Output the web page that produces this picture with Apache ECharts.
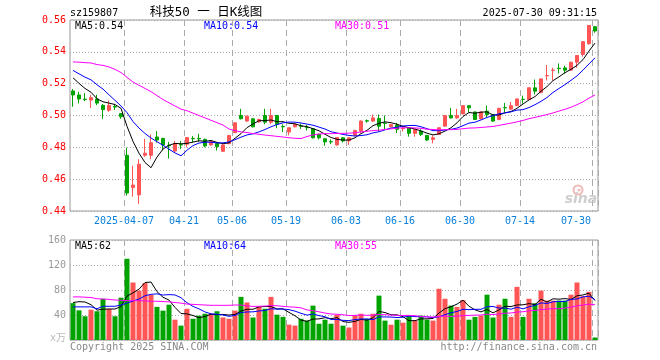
<!DOCTYPE html>
<html><head><meta charset="utf-8">
<script src="https://cdn.jsdelivr.net/npm/echarts@6/dist/echarts.min.js"></script>
<style>html,body{margin:0;padding:0;background:#fff}#c{width:660px;height:360px}</style>
</head><body><div id="c"></div>
<script>
const categories = ['2025-03-24','2025-03-25','2025-03-26','2025-03-27','2025-03-28','2025-03-31','2025-04-01','2025-04-02','2025-04-03','2025-04-07','2025-04-08','2025-04-09','2025-04-10','2025-04-11','2025-04-14','2025-04-15','2025-04-16','2025-04-17','2025-04-18','2025-04-21','2025-04-22','2025-04-23','2025-04-24','2025-04-25','2025-04-28','2025-04-29','2025-04-30','2025-05-06','2025-05-07','2025-05-08','2025-05-09','2025-05-12','2025-05-13','2025-05-14','2025-05-15','2025-05-16','2025-05-19','2025-05-20','2025-05-21','2025-05-22','2025-05-23','2025-05-26','2025-05-27','2025-05-28','2025-05-29','2025-05-30','2025-06-03','2025-06-04','2025-06-05','2025-06-06','2025-06-09','2025-06-10','2025-06-11','2025-06-12','2025-06-13','2025-06-16','2025-06-17','2025-06-18','2025-06-19','2025-06-20','2025-06-23','2025-06-24','2025-06-25','2025-06-26','2025-06-27','2025-06-30','2025-07-01','2025-07-02','2025-07-03','2025-07-04','2025-07-07','2025-07-08','2025-07-09','2025-07-10','2025-07-11','2025-07-14','2025-07-15','2025-07-16','2025-07-17','2025-07-18','2025-07-21','2025-07-22','2025-07-23','2025-07-24','2025-07-25','2025-07-28','2025-07-29','2025-07-30'];

const opens = [0.5154,0.5129,0.5103,0.5097,0.5104,0.5064,0.5033,0.5056,0.5012,0.4750,
0.4547,0.4501,0.4750,0.4750,0.4865,0.4856,0.4812,0.4777,0.4817,0.4819,
0.4856,0.4856,0.4850,0.4815,0.4825,0.4775,0.4823,0.4892,0.5000,0.4965,
0.4979,0.4960,0.5000,0.4958,0.5000,0.4931,0.4896,0.4929,0.4935,0.4925,
0.4917,0.4881,0.4854,0.4836,0.4815,0.4860,0.4840,0.4875,0.4902,0.4967,
0.4965,0.4981,0.4952,0.4929,0.4938,0.4917,0.4923,0.4888,0.4902,0.4875,
0.4850,0.4881,0.4933,0.5000,0.4985,0.5010,0.5062,0.5022,0.4980,0.5027,
0.5006,0.4975,0.5050,0.5040,0.5062,0.5102,0.5100,0.5174,0.5145,0.5249,
0.5283,0.5297,0.5299,0.5285,0.5335,0.5384,0.5451,0.5558];

const closes = [0.5129,0.5104,0.5100,0.5112,0.5078,0.5037,0.5064,0.5053,0.4992,0.4513,
0.4563,0.4694,0.4763,0.4829,0.4846,0.4815,0.4810,0.4823,0.4815,0.4861,
0.4854,0.4853,0.4809,0.4836,0.4804,0.4815,0.4875,0.4954,0.4980,0.4996,
0.4929,0.4975,0.4958,0.5000,0.4944,0.4929,0.4923,0.4944,0.4933,0.4923,
0.4860,0.4860,0.4834,0.4834,0.4861,0.4840,0.4860,0.4906,0.4965,0.4965,
0.4985,0.4933,0.4950,0.4944,0.4913,0.4919,0.4888,0.4913,0.4881,0.4846,
0.4860,0.4923,0.5000,0.4985,0.5000,0.5062,0.5048,0.4975,0.5022,0.5006,
0.4965,0.5045,0.5048,0.5062,0.5104,0.5100,0.5174,0.5153,0.5230,0.5251,
0.5285,0.5295,0.5285,0.5335,0.5377,0.5464,0.5566,0.5531];

const lows = [0.5055,0.5076,0.5090,0.5047,0.5065,0.4979,0.5023,0.5035,0.4979,0.4497,
0.4490,0.4445,0.4740,0.4725,0.4829,0.4780,0.4730,0.4770,0.4790,0.4800,
0.4830,0.4835,0.4800,0.4810,0.4780,0.4770,0.4820,0.4890,0.4975,0.4960,
0.4925,0.4955,0.4945,0.4945,0.4920,0.4896,0.4875,0.4925,0.4915,0.4905,
0.4855,0.4850,0.4810,0.4820,0.4810,0.4830,0.4815,0.4870,0.4890,0.4955,
0.4960,0.4900,0.4915,0.4925,0.4890,0.4900,0.4867,0.4867,0.4871,0.4840,
0.4825,0.4880,0.4930,0.4982,0.4980,0.5008,0.5020,0.4972,0.4975,0.4990,
0.4960,0.4970,0.5020,0.5035,0.5060,0.5075,0.5098,0.5132,0.5140,0.5220,
0.5220,0.5264,0.5264,0.5283,0.5300,0.5370,0.5445,0.5520];

const highs = [0.5166,0.5149,0.5140,0.5130,0.5130,0.5072,0.5094,0.5073,0.5015,0.4798,
0.4684,0.4725,0.4854,0.4881,0.4902,0.4860,0.4834,0.4840,0.4840,0.4865,
0.4870,0.4885,0.4855,0.4840,0.4830,0.4820,0.4878,0.4957,0.5042,0.5000,
0.4985,0.4980,0.5042,0.5042,0.5000,0.4944,0.4925,0.4948,0.4950,0.4940,
0.4920,0.4885,0.4856,0.4850,0.4865,0.4862,0.4862,0.4910,0.4970,0.4975,
0.5006,0.5006,0.5000,0.4946,0.4954,0.4935,0.4925,0.4915,0.4913,0.4878,
0.4875,0.4925,0.5003,0.5048,0.5042,0.5064,0.5064,0.5025,0.5025,0.5062,
0.5008,0.5048,0.5079,0.5085,0.5106,0.5125,0.5176,0.5226,0.5232,0.5317,
0.5300,0.5327,0.5313,0.5337,0.5380,0.5466,0.5568,0.5560];

const volumes = [59,47.5,38,48.5,46,66,49.6,38,67.7,130,
92,79,91,72,53,47,56.5,32.5,23,50,
34,39,42,41.6,46,36,34,47,69,60,
36,53,50,69,40.5,37,24.5,23,34,31,
55,26,32.5,26,40,23,20,40,42,33.6,
42,71,31,24.5,32.5,27.7,39,31,39,32.5,
31,82,66,55,53,63.5,32.5,37,39,72.5,
36,56.5,66,37,85,37,66,58.7,79,63,
63,63,63,72.5,92,70,77,4];

// moving-average values before a full window exists inside the shown range
const ma5Head = [0.5237,0.5202,0.5170,0.5146];
const ma10Head = [0.5283,0.5262,0.5241,0.5224,0.5193,0.5166,0.5130,0.5095,0.5060];
const ma30Head = [0.5337,0.5335,0.5332,0.5330,0.5320,0.5315,0.5305,0.5290,0.5270,0.5240,0.5210,0.5190,0.5170,0.5150,0.5125,0.5100,0.5080,0.5060,0.5040,0.5030,0.5015,0.5000,0.4985,0.4970,0.4955,0.4940,0.4915,0.4905,0.4897];
const volMa5Head = [60,61.3,60.8,56.5];
const volMa10Head = [53,53,53,53,50,54,54,54,56];
const volMa30Head = [69,69,68.5,68,66,65.5,65,64,63.5,63,63,63,62.5,62,62,61.5,61,60,59,57.5,57,56.5,56,55.5,55.5,55.5,55.5,56,56];

const labelDates = ['2025-04-07','2025-04-21','2025-05-06','2025-05-19','2025-06-03','2025-06-16','2025-06-30','2025-07-14','2025-07-30'];
const tickLabels = ['2025-04-07','04-21','05-06','05-19','06-03','06-16','06-30','07-14','07-30'];
const priceLegend = ['MA5:0.54','MA10:0.54','MA30:0.51'];
const volLegend = ['MA5:62','MA10:64','MA30:55'];

function movingAvg(vals, n, head, dp) {
  return vals.map((v, i) => {
    if (i < n - 1) return head[i];
    let s = 0;
    for (let k = i - n + 1; k <= i; k++) s += vals[k];
    return +(s / n).toFixed(dp);
  });
}

const MONO = '"DejaVu Sans Mono", "Liberation Mono", monospace';
const UP = '#ff5555', DOWN = '#00a300';
const labelSet = new Set(labelDates.map(d => categories.indexOf(d)));
const showIdx = (i) => labelSet.has(i);

const chart = echarts.init(document.getElementById('c'), null, {renderer: 'canvas'});

function lineSeries(name, data, color, xi) {
  return {name, type: 'line', data, xAxisIndex: xi, yAxisIndex: xi, symbol: 'none',
    lineStyle: {color, width: 1}, itemStyle: {color}, silent: true, z: 3};
}
function txt(text, x, y, fill, align, size, family) {
  return {type: 'text', x, y, silent: true, z: 100,
    style: {text, fill, font: (size || 10) + 'px ' + (family || MONO), textAlign: align || 'left', textVerticalAlign: 'middle'}};
}
const xSplit = {show: true, interval: (i) => showIdx(i), lineStyle: {color: '#aaa', width: 1, type: [6, 4]}};
const ySplit = {show: true, lineStyle: {color: '#aaa', width: 1, type: [1, 2]}};

const option = {
  animation: false,
  backgroundColor: '#fff',
  grid: [
    {left: 70, top: 20, width: 528, height: 191, show: true, borderColor: '#999', borderWidth: 1},
    {left: 70, top: 240, width: 528, height: 100, show: true, borderColor: '#999', borderWidth: 1}
  ],
  xAxis: [
    {type: 'category', gridIndex: 0, data: categories, boundaryGap: true,
      axisLine: {show: false}, axisTick: {show: false}, splitLine: xSplit,
      axisLabel: {interval: (i) => showIdx(i), color: '#0a80dc', fontFamily: MONO, fontSize: 10, margin: 5,
        padding: [0, 6, 0, 0],
        formatter: (v) => {
          const k = labelDates.indexOf(v);
          if (k < 0) return '';
          return k === labelDates.length - 1 ? '{last|' + tickLabels[k] + '}' : tickLabels[k];
        },
        rich: {last: {padding: [0, 32, 0, 0], color: '#0a80dc', fontFamily: MONO, fontSize: 10}}}},
    {type: 'category', gridIndex: 1, data: categories, boundaryGap: true,
      axisLine: {show: false}, axisTick: {show: false}, axisLabel: {show: false}, splitLine: xSplit}
  ],
  yAxis: [
    {type: 'value', gridIndex: 0, min: 0.44, max: 0.56, interval: 0.02, scale: true,
      axisLine: {show: false}, axisTick: {show: false}, splitLine: ySplit,
      axisLabel: {color: '#ff0000', fontFamily: MONO, fontSize: 10, margin: 4, formatter: (v) => v.toFixed(2)}},
    {type: 'value', gridIndex: 1, min: 0, max: 160, interval: 40,
      axisLine: {show: false}, axisTick: {show: false}, splitLine: ySplit,
      axisLabel: {color: '#999', fontFamily: MONO, fontSize: 10, margin: 4,
        formatter: (v) => v === 0 ? '{u|x万}' : String(v),
        rich: {u: {color: '#bbb', fontSize: 10, fontFamily: MONO + ', "Noto Sans CJK SC"', padding: [0, 0, 4, 0]}}}}
  ],
  series: [
    {name: 'K', type: 'candlestick', xAxisIndex: 0, yAxisIndex: 0, barWidth: 4,
      data: opens.map((o, i) => [o, closes[i], lows[i], highs[i]]),
      itemStyle: {color: UP, color0: DOWN, borderColor: UP, borderColor0: DOWN, borderWidth: 1}, z: 2},
    lineSeries('MA5', movingAvg(closes, 5, ma5Head, 4), '#000000', 0),
    lineSeries('MA10', movingAvg(closes, 10, ma10Head, 4), '#0000ff', 0),
    lineSeries('MA30', movingAvg(closes, 30, ma30Head, 4), '#ff00ff', 0),
    {name: 'VOL', type: 'bar', xAxisIndex: 1, yAxisIndex: 1, barWidth: 5,
      data: volumes.map((v, i) => ({value: v, itemStyle: {color: closes[i] >= opens[i] ? UP : DOWN}})), z: 2},
    lineSeries('VMA5', movingAvg(volumes, 5, volMa5Head, 2), '#000000', 1),
    lineSeries('VMA10', movingAvg(volumes, 10, volMa10Head, 2), '#0000ff', 1),
    lineSeries('VMA30', movingAvg(volumes, 30, volMa30Head, 2), '#ff00ff', 1)
  ],
  graphic: [
    txt('sz159807', 70, 13, '#000'),
    txt('科技50 一 日K线图', 206, 13, '#000', 'center', 12.5, MONO + ', "Noto Sans CJK SC"'),
    txt('2025-07-30 09:31:15', 597, 13, '#000', 'right'),
    txt(priceLegend[0], 75, 26.5, '#000'),
    txt(priceLegend[1], 204, 26.5, '#0000ff'),
    txt(priceLegend[2], 335, 26.5, '#ff00ff'),
    txt(volLegend[0], 75, 246.5, '#000'),
    txt(volLegend[1], 204, 246.5, '#0000ff'),
    txt(volLegend[2], 335, 246.5, '#ff00ff'),
    txt('Copyright 2025 SINA.COM', 70, 347, '#888'),
    txt('http://finance.sina.com.cn', 597, 347, '#888', 'right'),
    {type: 'circle', silent: true, z: 1, shape: {cx: 578, cy: 190, r: 4.5}, style: {fill: 'none', stroke: '#f2b9b9', lineWidth: 2}},
    {type: 'circle', silent: true, z: 1, shape: {cx: 579, cy: 190, r: 1.5}, style: {fill: '#f2b9b9'}},
    {type: 'text', silent: true, z: 1, x: 581, y: 199,
      style: {text: 'sina', fill: '#cfcfcf', font: 'italic bold 14px "DejaVu Sans"', textAlign: 'center', textVerticalAlign: 'middle'}}
  ]
};
chart.setOption(option);
</script>
</body></html>
